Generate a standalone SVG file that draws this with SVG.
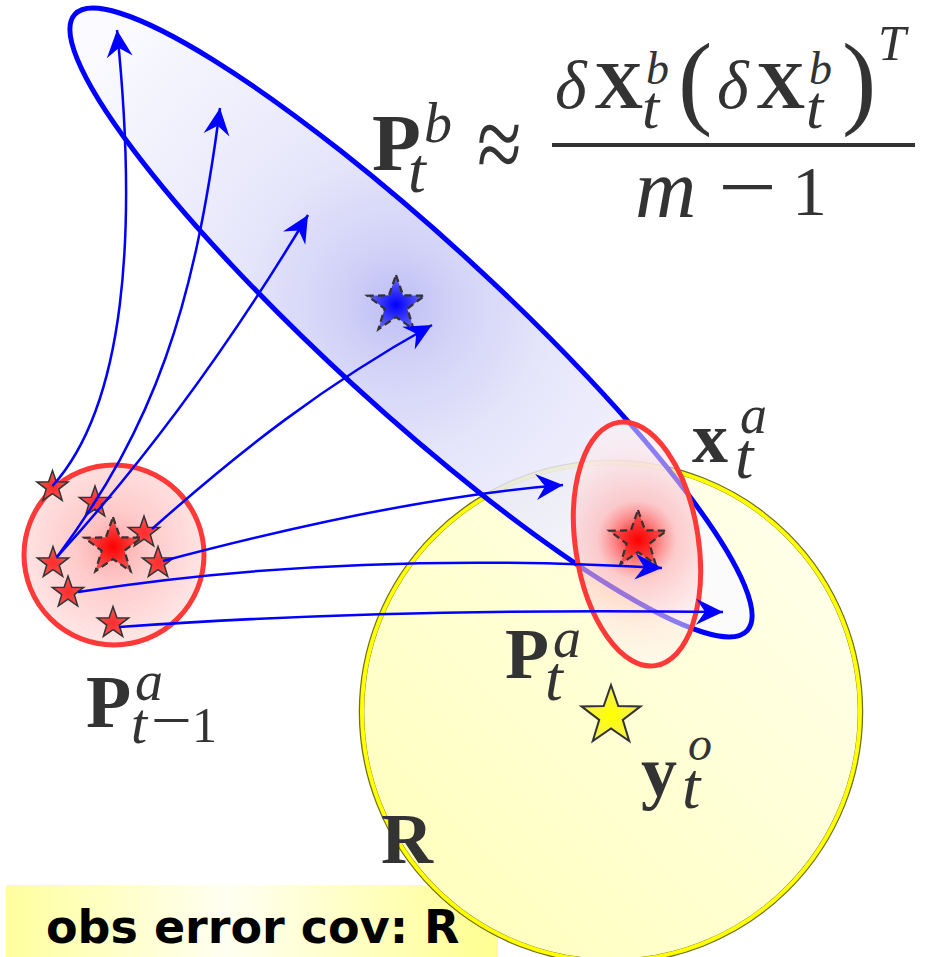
<svg xmlns="http://www.w3.org/2000/svg" width="925" height="957" viewBox="0 0 925 957">
<defs>
<style>
.math{font-family:"Liberation Serif","DejaVu Serif",serif;fill:#333}
.b{font-weight:bold}
.i{font-style:italic}
.arrow{fill:none;stroke:#0000ff;stroke-width:2.5;marker-end:url(#ah)}
.sstar{fill:url(#gSmall);stroke:#333;stroke-width:0.09}
.dstar{stroke:#333;stroke-width:0.075;stroke-dasharray:0.24 0.14}
.boxtext{font-family:"DejaVu Sans","Liberation Sans",sans-serif;font-weight:bold;font-size:46px;fill:#000}
</style>
<path id="star" d="M0,-1 L0.2351,-0.3236 L0.9511,-0.309 L0.3804,0.1236 L0.5878,0.809 L0,0.4 L-0.5878,0.809 L-0.3804,0.1236 L-0.9511,-0.309 L-0.2351,-0.3236 Z"/>
<marker id="ah" viewBox="-28 -14 29 28" markerWidth="29" markerHeight="28" refX="0" refY="0" orient="auto" markerUnits="userSpaceOnUse">
<path d="M0,0 L-27,-13 L-18,0 L-27,13 Z" fill="#0000ff"/>
</marker>
<radialGradient id="gSmall" cx="0.5" cy="0.55" r="0.55">
<stop offset="0" stop-color="#ff2a2a"/><stop offset="1" stop-color="#f05a5a"/>
</radialGradient>
<radialGradient id="gBigRed" cx="0.5" cy="0.55" r="0.55">
<stop offset="0" stop-color="#ff0000"/><stop offset="1" stop-color="#f26060"/>
</radialGradient>
<radialGradient id="gBlueStar" cx="0.5" cy="0.55" r="0.55">
<stop offset="0" stop-color="#0000ff"/><stop offset="1" stop-color="#7070f0"/>
</radialGradient>
<radialGradient id="gYellowStar" cx="0.5" cy="0.55" r="0.55">
<stop offset="0" stop-color="#ffff00"/><stop offset="1" stop-color="#f2ee60"/>
</radialGradient>
<radialGradient id="gBlue" gradientUnits="userSpaceOnUse" cx="388" cy="320" r="400">
<stop offset="0" stop-color="#b2b2f4"/><stop offset="0.15" stop-color="#cacaf6"/><stop offset="0.4" stop-color="#e2e2fa"/><stop offset="1" stop-color="#fafaff"/>
</radialGradient>
<radialGradient id="gRedEl" gradientUnits="userSpaceOnUse" cx="637.5" cy="540" r="125">
<stop offset="0" stop-color="#ff0000" stop-opacity="1"/><stop offset="0.08" stop-color="#ff3030" stop-opacity="0.9"/><stop offset="0.32" stop-color="#ffb0b0" stop-opacity="0.62"/><stop offset="0.7" stop-color="#ffe4e4" stop-opacity="0.55"/><stop offset="1" stop-color="#fff4f4" stop-opacity="0.5"/>
</radialGradient>
<radialGradient id="gRedCircle" gradientUnits="userSpaceOnUse" cx="113" cy="547" r="92">
<stop offset="0" stop-color="#ffa8a8"/><stop offset="0.4" stop-color="#ffcaca"/><stop offset="1" stop-color="#ffe4e4"/>
</radialGradient>
<linearGradient id="gYellow" x1="0" y1="1" x2="1" y2="0">
<stop offset="0" stop-color="#ffffb8"/><stop offset="0.5" stop-color="#ffffd4"/><stop offset="1" stop-color="#fffff0"/>
</linearGradient>
<linearGradient id="gBox" x1="0" y1="0" x2="1" y2="0">
<stop offset="0" stop-color="#ffff9e"/><stop offset="0.45" stop-color="#fffff2"/><stop offset="1" stop-color="#ffff90"/>
</linearGradient>
</defs>

<g id="obs-box">
<rect x="6" y="885" width="492" height="72" fill="url(#gBox)"/>
<text class="boxtext" x="46" y="943">obs error cov: R</text>
</g>

<g id="R-circle">
<circle cx="611" cy="712" r="249.5" fill="url(#gYellow)" stroke="#6e6e20" stroke-width="5.5"/>
<circle cx="611" cy="712" r="249" fill="none" stroke="#ffff00" stroke-width="4"/>
</g>

<g id="Pb-ellipse">
<ellipse cx="411" cy="322.5" rx="456" ry="85" transform="rotate(42.5 411 322.5)" fill="url(#gBlue)" fill-opacity="0.85" stroke="#0000ff" stroke-width="5"/>
</g>

<g id="Pa-ellipse">
<ellipse cx="637" cy="544" rx="61.5" ry="123" transform="rotate(-8.6 637 544)" fill="url(#gRedEl)" stroke="#ff3838" stroke-width="5"/>
</g>

<g id="Pa-prev-circle">
<circle cx="114" cy="555" r="90" fill="url(#gRedCircle)" stroke="#ff3838" stroke-width="5"/>
</g>

<g id="ensemble-prev">
<use href="#star" class="sstar" transform="translate(52.5,487) scale(16.5)"/>
<use href="#star" class="sstar" transform="translate(95,502.5) scale(16.5)"/>
<use href="#star" class="sstar" transform="translate(144,532.5) scale(16.5)"/>
<use href="#star" class="sstar" transform="translate(53,563) scale(16.5)"/>
<use href="#star" class="sstar" transform="translate(158,563) scale(16.5)"/>
<use href="#star" class="sstar" transform="translate(68,592.5) scale(16.5)"/>
<use href="#star" class="sstar" transform="translate(113,623) scale(16.5)"/>
</g>
<g id="mean-prev">
<use href="#star" class="dstar" fill="url(#gBigRed)" transform="translate(113,547) scale(30)"/>
</g>
<g id="mean-forecast">
<use href="#star" class="dstar" fill="url(#gBlueStar)" transform="translate(396,305) scale(30)"/>
</g>
<g id="mean-analysis">
<use href="#star" class="dstar" fill="url(#gBigRed)" transform="translate(638,540) scale(30)"/>
</g>
<g id="obs-star">
<use href="#star" fill="url(#gYellowStar)" stroke="#333" stroke-width="0.065" transform="translate(611,716) scale(31)"/>
</g>

<g id="connectors">
<path class="arrow" d="M52.5,486 C125,405 138,235 117,30"/>
<path class="arrow" d="M57,557 C155,425 194,308 220,108"/>
<path class="arrow" d="M57,557 C159,445 242,325 308,215"/>
<path class="arrow" d="M152,529 C241,450 324,385 432,325"/>
<path class="arrow" d="M163,561 C280,530 430,495 563,485"/>
<path class="arrow" d="M78,592 C250,565 450,556 662,568"/>
<path class="arrow" d="M119,627 C300,614 500,609 723,612"/>
</g>

<g id="label-Pb" class="math">
<text class="b" x="372" y="170" font-size="80">P</text>
<text class="i" x="424" y="142" font-size="56">b</text>
<text class="i" x="408" y="192" font-size="64">t</text>
<text transform="translate(477,180) scale(1.1,1.45)" font-size="74">≈</text>
<text class="i" x="555" y="108" font-size="68">δ</text>
<text class="b" x="594" y="108" font-size="68">X</text>
<text class="i" x="646" y="84" font-size="46">b</text>
<text class="i" x="642" y="128" font-size="62">t</text>
<text x="678" y="115" font-size="103">(</text>
<text class="i" x="717" y="108" font-size="68">δ</text>
<text class="b" x="756" y="108" font-size="68">X</text>
<text class="i" x="809" y="84" font-size="46">b</text>
<text class="i" x="806" y="128" font-size="62">t</text>
<text x="842" y="115" font-size="103">)</text>
<text class="i" x="878" y="60" font-size="50">T</text>
<line x1="552" y1="145" x2="915" y2="145" stroke="#333" stroke-width="4"/>
<text class="i" x="635" y="217" font-size="85">m</text>
<text transform="translate(718,215) scale(1.5,1.2)" font-size="70">−</text>
<text x="792" y="215" font-size="70">1</text>
</g>

<g id="label-xa" class="math">
<text class="b" x="692" y="462" font-size="72">x</text>
<text class="i" x="740" y="433" font-size="54">a</text>
<text class="i" x="735" y="478" font-size="66">t</text>
</g>

<g id="label-Pa" class="math">
<text class="b" x="505" y="678" font-size="72">P</text>
<text class="i" x="553" y="657" font-size="56">a</text>
<text class="i" x="545" y="700" font-size="64">t</text>
</g>

<g id="label-Pa-prev" class="math">
<text class="b" x="86" y="727" font-size="74">P</text>
<text class="i" x="135" y="700" font-size="56">a</text>
<text class="i" x="131" y="743" font-size="58">t</text>
<text transform="translate(151,742) scale(1.35,1.2)" font-size="54">−</text>
<text x="192" y="742" font-size="50">1</text>
</g>

<g id="label-yo" class="math">
<text class="b" x="641" y="796" font-size="72">y</text>
<text class="i" x="688" y="760" font-size="48">o</text>
<text class="i" x="682" y="808" font-size="66">t</text>
</g>

<g id="label-R" class="math">
<text class="b" x="381" y="863" font-size="72">R</text>
</g>
</svg>
